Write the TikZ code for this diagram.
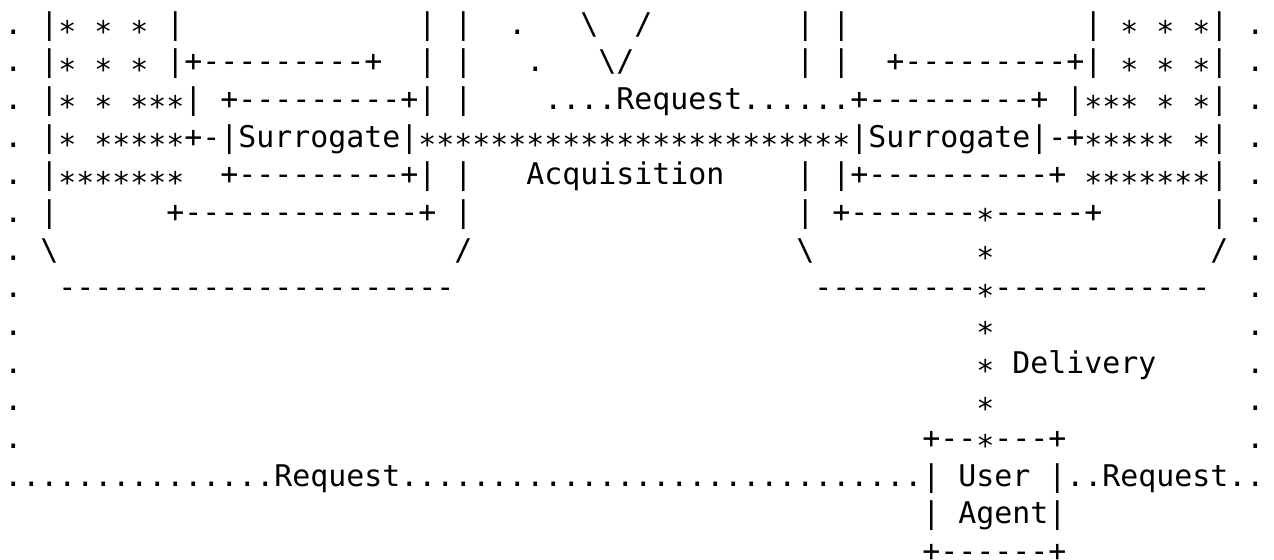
\documentclass[tikz,border=0pt]{standalone}
\usepackage{fontspec}
\setmonofont{DejaVu Sans Mono}
\frenchspacing
\newcommand\Gp{\kern9pt\relax}
\newcommand\Ak{\raisebox{-4.3pt}{*}}
\newcommand\Bsl{\textbackslash}
\tikzset{txt/.style={anchor=base west, inner sep=0pt, outer sep=0pt,
  font=\ttfamily\fontsize{14.949}{18}\selectfont, text=black}}
\newcommand\Seg[3]{\node[txt] (r#1c#2) at ({4.3+18*#2},{34+37.67*#1}) {#3};}
\begin{document}
\begin{tikzpicture}[x=0.5pt,y=-0.5pt]
\useasboundingbox (0,0) rectangle (1274,559);
\fill[white] (0,0) rectangle (1274,559);
\clip (0,0) rectangle (1274,559);
% row 0
\Seg{0}{0}{.}
\Seg{0}{2}{|\Ak\Gp\Ak\Gp\Ak\Gp|}
\Seg{0}{23}{|\Gp|}
\Seg{0}{28}{.}
\Seg{0}{32}{\Bsl}
\Seg{0}{35}{/}
\Seg{0}{44}{|\Gp|}
\Seg{0}{60}{|\Gp\Ak\Gp\Ak\Gp\Ak|}
\Seg{0}{69}{.}
% row 1
\Seg{1}{0}{.}
\Seg{1}{2}{|\Ak\Gp\Ak\Gp\Ak\Gp|+---------+}
\Seg{1}{23}{|\Gp|}
\Seg{1}{29}{.}
\Seg{1}{33}{\Bsl/}
\Seg{1}{44}{|\Gp|}
\Seg{1}{49}{+---------+|\Gp\Ak\Gp\Ak\Gp\Ak|}
\Seg{1}{69}{.}
% row 2
\Seg{2}{0}{.}
\Seg{2}{2}{|\Ak\Gp\Ak\Gp\Ak\Ak\Ak|}
\Seg{2}{12}{+---------+|}
\Seg{2}{25}{|}
\Seg{2}{30}{....Request......+---------+}
\Seg{2}{59}{|\Ak\Ak\Ak\Gp\Ak\Gp\Ak|}
\Seg{2}{69}{.}
% row 3
\Seg{3}{0}{.}
\Seg{3}{2}{|\Ak\Gp\Ak\Ak\Ak\Ak\Ak+-|Surrogate|}
\Seg{3}{23}{\Ak\Ak\Ak\Ak\Ak\Ak\Ak\Ak\Ak\Ak\Ak\Ak\Ak\Ak\Ak\Ak\Ak\Ak\Ak\Ak\Ak\Ak\Ak\Ak}
\Seg{3}{47}{|Surrogate|-+\Ak\Ak\Ak\Ak\Ak\Gp\Ak|}
\Seg{3}{69}{.}
% row 4
\Seg{4}{0}{.}
\Seg{4}{2}{|\Ak\Ak\Ak\Ak\Ak\Ak\Ak}
\Seg{4}{12}{+---------+|\Gp|}
\Seg{4}{29}{Acquisition}
\Seg{4}{44}{|\Gp|+----------+}
\Seg{4}{60}{\Ak\Ak\Ak\Ak\Ak\Ak\Ak|}
\Seg{4}{69}{.}
% row 5
\Seg{5}{0}{.}
\Seg{5}{2}{|}
\Seg{5}{9}{+-------------+}
\Seg{5}{25}{|}
\Seg{5}{44}{|\Gp+-------\Ak-----+}
\Seg{5}{67}{|}
\Seg{5}{69}{.}
% row 6
\Seg{6}{0}{.}
\Seg{6}{2}{\Bsl}
\Seg{6}{25}{/}
\Seg{6}{44}{\Bsl}
\Seg{6}{54}{\Ak}
\Seg{6}{67}{/}
\Seg{6}{69}{.}
% row 7
\Seg{7}{0}{.}
\Seg{7}{3}{----------------------}
\Seg{7}{45}{---------\Ak------------}
\Seg{7}{69}{.}
% rows 8-11
\Seg{8}{0}{.}
\Seg{8}{54}{\Ak}
\Seg{8}{69}{.}
\Seg{9}{0}{.}
\Seg{9}{54}{\Ak}
\Seg{9}{56}{Delivery}
\Seg{9}{69}{.}
\Seg{10}{0}{.}
\Seg{10}{54}{\Ak}
\Seg{10}{69}{.}
\Seg{11}{0}{.}
\Seg{11}{51}{+--\Ak---+}
\Seg{11}{69}{.}
% row 12
\Seg{12}{0}{...............Request}
\Seg{12}{22}{.............................}
\Seg{12}{51}{|\Gp User\Gp|..Request..}
% rows 13-14
\Seg{13}{51}{|\Gp Agent|}
\Seg{14}{51}{+------+}
\end{tikzpicture}
\end{document}
